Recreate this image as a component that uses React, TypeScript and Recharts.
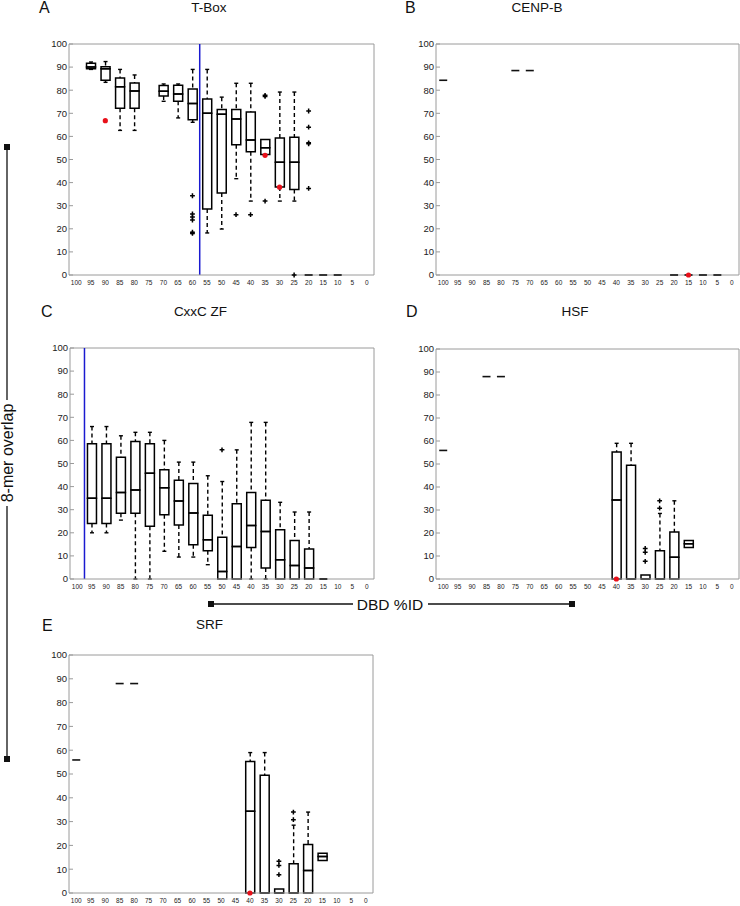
import React from "react";
import { ComposedChart, Bar, Line, XAxis, YAxis, ReferenceLine } from "recharts";

// x categories: DBD %ID, high to low
const categories = ["100", "95", "90", "85", "80", "75", "70", "65", "60", "55", "50", "45", "40", "35", "30", "25", "20", "15", "10", "5", "0"];
const yTicks = [0, 10, 20, 30, 40, 50, 60, 70, 80, 90, 100];

type Box = [number, number, number, number, number] | null; // [whiskerLo, q1, median, q3, whiskerHi]

// A: T-Box
const tboxBoxes: Box[] = [
  null, [89, 89.3, 90, 91.7, 92.2], [83.4, 84.3, 89.3, 90.2, 92.4], [62.6, 72.2, 81.5, 85.3, 89], [62.6, 72.2, 79.7, 83.1, 86.6],
  null, [75.2, 77.5, 79.5, 82, 82.7], [68, 75.2, 78.4, 82.1, 82.7], [66.1, 67.2, 74.2, 80.5, 89], [18.2, 28.6, 70, 76.2, 89],
  [19.9, 35.5, 69.6, 71.6, 77], [41.7, 56.4, 67.5, 71.6, 83], [32, 53.4, 58.4, 70.6, 83], [52.2, 52.2, 55.1, 58.7, 58.7],
  [32, 38.1, 48.8, 59.3, 79.2], [32, 37, 48.8, 59.6, 79.2], null, null, null, null, null,
];
const tboxFlat = [null, null, null, null, null, null, null, null, null, null, null, null, null, null, null, null, 0, 0, 0, null, null];
const tboxOutliers: number[][] = [
  [], [], [], [], [], [], [], [], [34.3, 26.4, 25.1, 23.8, 18.5, 18], [], [], [26.1], [26.1], [77.8, 77.3, 32],
  [], [0], [71, 64, 57.2, 56.8, 37.5], [], [], [], [],
];
const tboxRed = [null, null, 66.8, null, null, null, null, null, null, null, null, null, null, 51.8, 38, null, null, null, null, null, null];

// B: CENP-B
const cenpBoxes: Box[] = categories.map(() => null);
const cenpFlat = [84.3, null, null, null, null, 88.5, 88.5, null, null, null, null, null, null, null, null, null, 0, 0, 0, 0, null];
const cenpOutliers: number[][] = categories.map(() => []);
const cenpRed = [null, null, null, null, null, null, null, null, null, null, null, null, null, null, null, null, null, 0, null, null, null];

// C: CxxC ZF
const cxxcBoxes: Box[] = [
  null, [20, 24, 35, 58.5, 66], [20, 24, 35, 58.5, 66], [25.5, 28.5, 37.5, 52.7, 62], [0, 28.5, 38.5, 59.5, 63.5],
  [0, 22.8, 45.8, 58.5, 63.5], [12, 27.8, 39.5, 47.3, 60], [9.5, 23.4, 33.8, 42.7, 50.6], [9.5, 14.8, 28.6, 41.3, 50.6],
  [6.2, 12.2, 17, 27.6, 44.7], [0, 0, 3.3, 18.1, 42.2], [0, 0, 14.1, 32.6, 55.9], [0, 13.6, 23.2, 37.5, 67.8],
  [0, 4.8, 20.6, 34.1, 67.8], [0, 0, 8.3, 21.3, 33.2], [0, 0, 5.8, 16.7, 29], [0, 0, 4.8, 13, 29], null, null, null, null,
];
const cxxcFlat = [null, null, null, null, null, null, null, null, null, null, null, null, null, null, null, null, null, 0, null, null, null];
const cxxcOutliers: number[][] = [
  [], [], [], [], [], [], [], [], [], [], [55.9], [], [], [], [], [], [], [], [], [], [],
];
const cxxcRed = categories.map(() => null);

// D: HSF and E: SRF (same values in the figure)
const hsfBoxes: Box[] = [
  null, null, null, null, null, null, null, null, null, null, null, null,
  [0, 0, 34.4, 55.2, 59], [0, 0, 0, 49.5, 59], [0, 0, 0, 1.7, 1.7], [0, 0, 0, 12.3, 28.5], [0, 0, 9.5, 20.4, 34],
  [13.7, 13.7, 15.3, 16.7, 16.7], null, null, null,
];
const hsfFlat = [55.9, null, null, 88, 88, null, null, null, null, null, null, null, null, null, null, null, null, null, null, null, null];
const hsfOutliers: number[][] = [
  [], [], [], [], [], [], [], [], [], [], [], [], [], [], [13.3, 11.6, 7.7], [34, 30.8], [], [], [], [], [],
];
const hsfRed = [null, null, null, null, null, null, null, null, null, null, null, null, 0, null, null, null, null, null, null, null, null];

const srfBoxes = hsfBoxes;
const srfFlat = hsfFlat;
const srfOutliers = hsfOutliers;
const srfRed = hsfRed;

const FONT = "'Liberation Sans', Arial, Helvetica, sans-serif";
const AXIS_GRAY = "#9a9a9a";
const OUTLIER_KEYS = ["o0", "o1", "o2", "o3", "o4", "o5"];

function buildRows(boxes: Box[], flat: (number | null)[], outliers: number[][], red: (number | null)[]) {
  return categories.map((cat, i) => {
    const row: Record<string, any> = { cat, flat: flat[i], red: red[i] };
    const b = boxes[i];
    if (b) {
      row.base = b[0];
      row.lw = b[1] - b[0];
      row.bl = b[2] - b[1];
      row.bh = b[3] - b[2];
      row.uw = b[4] - b[3];
    }
    outliers[i].forEach((v, k) => (row[OUTLIER_KEYS[k]] = v));
    return row;
  });
}

const LowerWhisker = (p: any) => {
  const { x, y, width, height, payload } = p;
  if (payload.lw == null || !(height > 0.3)) return <g />;
  const cx = x + width / 2;
  const yb = y + height;
  return (
    <g>
      <line x1={cx} x2={cx} y1={y} y2={yb} stroke="#000" strokeWidth={1.4} strokeDasharray="4 3" />
      <line x1={cx - 2} x2={cx + 2} y1={yb} y2={yb} stroke="#000" strokeWidth={1.4} />
    </g>
  );
};

const UpperWhisker = (p: any) => {
  const { x, y, width, height, payload } = p;
  if (payload.uw == null || !(height > 0.3)) return <g />;
  const cx = x + width / 2;
  return (
    <g>
      <line x1={cx} x2={cx} y1={y} y2={y + height} stroke="#000" strokeWidth={1.4} strokeDasharray="4 3" />
      <line x1={cx - 2} x2={cx + 2} y1={y} y2={y} stroke="#000" strokeWidth={1.4} />
    </g>
  );
};

const BoxPart = (p: any) => {
  const { x, y, width, height, payload } = p;
  if (payload.bl == null) return <g />;
  return <path d={`M${x},${y}h${width}v${height}h${-width}Z`} fill="none" stroke="#000" strokeWidth={1.5} />;
};

const Hidden = () => <g />;

const PlusDot = (p: any) => {
  const { cx, cy, value, index } = p;
  if (value == null || cy == null || isNaN(cy)) return <g key={`p${index}`} />;
  return <path key={`p${index}`} d={`M${cx - 2.4},${cy}h4.8M${cx},${cy - 2.4}v4.8`} stroke="#000" strokeWidth={1.5} />;
};

const FlatDot = (p: any) => {
  const { cx, cy, value, index } = p;
  if (value == null || cy == null || isNaN(cy)) return <g key={`f${index}`} />;
  return <line key={`f${index}`} x1={cx - 4} x2={cx + 4} y1={cy} y2={cy} stroke="#111" strokeWidth={1.6} />;
};

const RedDot = (p: any) => {
  const { cx, cy, value, index } = p;
  if (value == null || cy == null || isNaN(cy)) return <g key={`r${index}`} />;
  return <circle key={`r${index}`} cx={cx} cy={cy} r={2.6} fill="#e8101a" />;
};

interface PanelProps {
  left: number;
  top: number;
  right: number;
  bottom: number;
  rows: Record<string, any>[];
  blueAt?: string;
}

function Panel({ left, top, right, bottom, rows, blueAt }: PanelProps) {
  const w = right - left + 56;
  const h = bottom - top + 34;
  return (
    <div style={{ position: "absolute", left: left - 40, top: top - 10 }}>
      <ComposedChart width={w} height={h} data={rows} margin={{ top: 10, right: 15, bottom: 4, left: 0 }} barSize={9}>
        <XAxis
          dataKey="cat"
          interval={0}
          tickLine={false}
          tickSize={0}
          tickMargin={5}
          height={20}
          axisLine={{ stroke: AXIS_GRAY }}
          tick={{ fontSize: 6.5, fill: "#222", fontFamily: FONT }}
        />
        <YAxis
          domain={[0, 100]}
          ticks={yTicks}
          width={40}
          tickSize={-4}
          tickMargin={6}
          axisLine={{ stroke: AXIS_GRAY }}
          tickLine={{ stroke: AXIS_GRAY }}
          tick={{ fontSize: 9.5, fill: "#222", fontFamily: FONT }}
        />
        <YAxis
          yAxisId="r"
          orientation="right"
          domain={[0, 100]}
          ticks={yTicks}
          width={1}
          tickSize={-4}
          tick={false}
          axisLine={{ stroke: AXIS_GRAY }}
          tickLine={{ stroke: AXIS_GRAY }}
        />
        <ReferenceLine y={100} stroke={AXIS_GRAY} />
        {blueAt && <ReferenceLine x={blueAt} position="end" stroke="#1a1ad0" strokeWidth={1.5} />}
        <Bar dataKey="base" stackId="box" shape={Hidden} isAnimationActive={false} />
        <Bar dataKey="lw" stackId="box" shape={LowerWhisker} isAnimationActive={false} />
        <Bar dataKey="bl" stackId="box" shape={BoxPart} isAnimationActive={false} />
        <Bar dataKey="bh" stackId="box" shape={BoxPart} isAnimationActive={false} />
        <Bar dataKey="uw" stackId="box" shape={UpperWhisker} isAnimationActive={false} />
        <Line dataKey="flat" stroke="none" dot={FlatDot} activeDot={false} isAnimationActive={false} />
        {OUTLIER_KEYS.map((k) => (
          <Line key={k} dataKey={k} stroke="none" dot={PlusDot} activeDot={false} isAnimationActive={false} />
        ))}
        <Line dataKey="red" stroke="none" dot={RedDot} activeDot={false} isAnimationActive={false} />
      </ComposedChart>
    </div>
  );
}

function Annotations() {
  const t = { fontFamily: FONT, fill: "#111" } as const;
  return (
    <svg width={740} height={906} style={{ position: "absolute", left: 0, top: 0, pointerEvents: "none" }}>
      <text x={39} y={13} fontSize={16} {...t}>A</text>
      <text x={209} y={12} fontSize={13.5} textAnchor="middle" {...t}>T-Box</text>
      <text x={405} y={13} fontSize={16} {...t}>B</text>
      <text x={537} y={12} fontSize={13.5} textAnchor="middle" {...t}>CENP-B</text>
      <text x={41} y={317} fontSize={16} {...t}>C</text>
      <text x={200.5} y={316} fontSize={13.5} textAnchor="middle" {...t}>CxxC ZF</text>
      <text x={406} y={317} fontSize={16} {...t}>D</text>
      <text x={575} y={316} fontSize={13.5} textAnchor="middle" {...t}>HSF</text>
      <text x={42} y={631} fontSize={16} {...t}>E</text>
      <text x={209.5} y={629} fontSize={13.5} textAnchor="middle" {...t}>SRF</text>

      {/* 8-mer overlap bracket */}
      <line x1={7} x2={7} y1={147} y2={400} stroke="#111" strokeWidth={1.3} />
      <line x1={7} x2={7} y1={506} y2={759} stroke="#111" strokeWidth={1.3} />
      <rect x={4} y={144} width={6} height={6} fill="#111" />
      <rect x={4} y={756} width={6} height={6} fill="#111" />
      <text x={7} y={453} fontSize={16} textAnchor="middle" dominantBaseline="central" transform="rotate(-90 7 453)" {...t}>
        8-mer overlap
      </text>

      {/* DBD %ID bracket */}
      <line x1={211} x2={353} y1={604} y2={604} stroke="#111" strokeWidth={1.3} />
      <line x1={428} x2={572} y1={604} y2={604} stroke="#111" strokeWidth={1.3} />
      <rect x={208} y={601} width={6} height={6} fill="#111" />
      <rect x={569} y={601} width={6} height={6} fill="#111" />
      <text x={390} y={609.5} fontSize={15.5} textAnchor="middle" {...t}>DBD %ID</text>
    </svg>
  );
}

export default function App() {
  return (
    <div style={{ position: "absolute", left: 0, top: 0, width: 740, height: 906, overflow: "hidden", background: "#fff", fontFamily: FONT }}>
      <Panel left={69} top={44} right={374} bottom={275} rows={buildRows(tboxBoxes, tboxFlat, tboxOutliers, tboxRed)} blueAt="60" />
      <Panel left={436} top={44} right={739} bottom={275} rows={buildRows(cenpBoxes, cenpFlat, cenpOutliers, cenpRed)} />
      <Panel left={70} top={348} right={374} bottom={579} rows={buildRows(cxxcBoxes, cxxcFlat, cxxcOutliers, cxxcRed)} blueAt="100" />
      <Panel left={436} top={349} right={739} bottom={579} rows={buildRows(hsfBoxes, hsfFlat, hsfOutliers, hsfRed)} />
      <Panel left={69} top={655} right={373} bottom={893} rows={buildRows(srfBoxes, srfFlat, srfOutliers, srfRed)} />
      <Annotations />
    </div>
  );
}
